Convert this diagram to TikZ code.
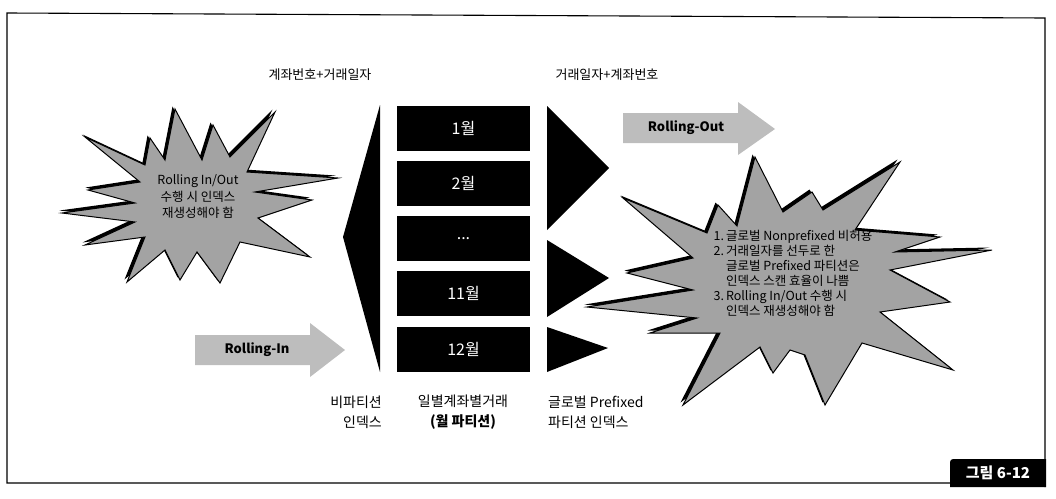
\documentclass[tikz,border=0pt]{standalone}
\usepackage{fontspec}
\setmainfont{Noto Sans CJK KR}
\definecolor{stargray}{gray}{0.64}
\definecolor{arrowgray}{gray}{0.74}
\tikzset{
  label13/.style={inner sep=0pt, font=\fontsize{13}{16}\selectfont},
  label14/.style={inner sep=0pt, font=\fontsize{14}{20}\selectfont},
  monthbox/.style={fill=black, minimum width=133pt, minimum height=45pt, inner sep=0pt,
    text=white, font=\fontsize{16}{18}\selectfont},
  starfill/.style={fill=stargray, draw=black, line width=1pt, line join=miter},
  starshadow/.style={fill=black},
  arrowshape/.style={fill=arrowgray},
  arrowtext/.style={inner sep=0pt, font=\fontsize{13}{15}\selectfont\bfseries},
}
\def\leftstar{(175,109) -- (202,160) -- (213,125) -- (230,157) -- (275,112) -- (247,172) --
  (338,178) -- (255,192) -- (312,200) -- (258,218) -- (310,257) -- (240,242) --
  (220,283) -- (197,252) -- (180,280) -- (165,250) -- (127,282) -- (145,237) --
  (85,245) -- (135,222) -- (62,213) -- (135,203) -- (88,190) -- (140,182) --
  (85,137) -- (145,165) -- (150,138) -- (165,160) -- cycle}
\def\rightstar{(755,157) -- (783,212) -- (812,192) -- (823,210) -- (900,162) -- (855,230) --
  (940,237) -- (895,252) -- (992,250) -- (890,270) -- (950,302) -- (880,312) --
  (953,370) -- (862,343) -- (825,405) -- (805,355) -- (790,350) -- (773,373) --
  (760,347) -- (683,405) -- (720,333) -- (650,333) -- (697,318) -- (587,307) --
  (693,290) -- (627,273) -- (693,258) -- (623,198) -- (707,233) -- (718,205) --
  (737,226) -- cycle}
\begin{document}
\begin{tikzpicture}[x=1pt,y=-1pt]
\useasboundingbox (0,0) rectangle (1056,498);
% frame
\draw[line width=1.1pt] (950,483) -- (7,483) -- (7,13) -- (1045,18) -- (1045,487);
\fill[black] (950,487) -- (950,466) .. controls (950,459) .. (957,459) -- (1046,459) -- (1046,487) -- cycle;
\node[inner sep=0pt, text=white, font=\fontsize{15}{17}\selectfont\bfseries] (fig) at (998,473) {그림 6-12};

% top labels
\node[label13] (keyA) at (320,75) {계좌번호+거래일자};
\node[label13] (keyB) at (607,75) {거래일자+계좌번호};

% left starburst
\fill[starshadow, shift={(-2.5,-2.5)}] \leftstar;
\path[starfill] \leftstar;
\node[inner sep=0pt, align=center, font=\fontsize{12.5}{16.5}\selectfont] (starL) at (198,197)
  {Rolling In/Out\\수행 시 인덱스\\재생성해야 함};

% right starburst
\fill[starshadow, shift={(-2.5,-2.5)}] \rightstar;
\path[starfill] \rightstar;
\node[inner sep=0pt, font=\fontsize{12.5}{15}\selectfont] (starR) at (793,275)
  {\begin{tabular}{@{}l@{\,}l@{}}
   1. & 글로벌 Nonprefixed 비허용\\
   2. & 거래일자를 선두로 한\\
      & 글로벌 Prefixed 파티션은\\
      & 인덱스 스캔 효율이 나쁨\\
   3. & Rolling In/Out 수행 시\\
      & 인덱스 재생성해야 함
   \end{tabular}};

% arrows
\path[arrowshape] (623,113) -- (738,113) -- (738,102) -- (775,129) -- (738,155) -- (738,143) -- (623,143) -- cycle;
\node[arrowtext] (rout) at (686,128) {Rolling-Out};
\path[arrowshape] (195,335) -- (310,335) -- (310,323) -- (345,350) -- (310,377) -- (310,365) -- (195,365) -- cycle;
\node[arrowtext] (rin) at (257,350) {Rolling-In};

% non-partitioned index triangle
\fill[black] (380,105) -- (380,372) -- (343,237) -- cycle;

% month partitions
\node[monthbox] (m1) at (463.5,128) {1월};
\node[monthbox] (m2) at (463.5,183.5) {2월};
\node[monthbox] (m3) at (463.5,238.5) {...};
\node[monthbox] (m4) at (463.5,293.5) {11월};
\node[monthbox] (m5) at (463.5,349) {12월};

% global prefixed partition index triangles
\fill[black] (547,106) -- (609,168) -- (547,230) -- cycle;
\fill[black] (547,240) -- (609,278) -- (547,317) -- cycle;
\fill[black] (547,327) -- (608,348) -- (547,372) -- cycle;

% bottom labels
\node[label14, anchor=east, align=right] (lblA) at (382,412) {비파티션\\인덱스};
\node[label14, align=center] (lblB) at (463,412) {일별계좌별거래\\{\bfseries (월 파티션)}};
\node[label14, anchor=west, align=left] (lblC) at (548,412) {글로벌 Prefixed\\파티션 인덱스};
\end{tikzpicture}
\end{document}
